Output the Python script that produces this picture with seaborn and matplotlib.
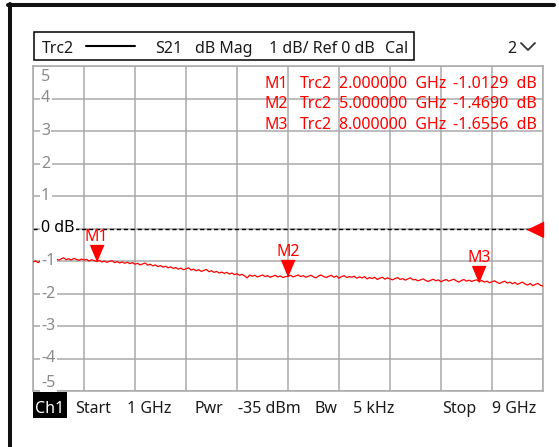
import numpy as np
import matplotlib.pyplot as plt
import seaborn as sns
from matplotlib.lines import Line2D
from matplotlib.patches import Rectangle

# S21 trace (dB), sweep 1 GHz -> 9 GHz
start_ghz = 1
stop_ghz = 9
s21_db = [
    -1.03, -1.00, -1.05, -0.99, -1.01, -0.97, -1.00, -0.95, -0.98, -0.93, -0.97, -0.94, -0.90,
    -0.96, -0.93, -0.97, -0.92, -0.95, -0.98, -0.94, -0.97, -0.95, -1.00, -0.96, -0.99,
    -1.01, -0.98, -1.03, -1.00, -1.04, -1.01, -0.99, -1.05, -1.02, -1.06, -1.03, -1.07, -1.04,
    -1.08, -1.05, -1.10, -1.07, -1.12, -1.09, -1.06, -1.13, -1.10, -1.15, -1.12, -1.17,
    -1.14, -1.19, -1.16, -1.21, -1.18, -1.23, -1.20, -1.25, -1.22, -1.27, -1.24, -1.21, -1.28,
    -1.25, -1.30, -1.27, -1.32, -1.29, -1.26, -1.33, -1.30, -1.35, -1.32, -1.37, -1.34,
    -1.38, -1.35, -1.40, -1.37, -1.42, -1.39, -1.44, -1.41, -1.46, -1.52, -1.43, -1.47, -1.44,
    -1.49, -1.46, -1.43, -1.48, -1.45, -1.50, -1.47, -1.44, -1.49, -1.46, -1.51, -1.48,
    -1.47, -1.44, -1.49, -1.46, -1.43, -1.48, -1.45, -1.50, -1.47, -1.44, -1.49, -1.52, -1.46,
    -1.43, -1.48, -1.51, -1.47, -1.44, -1.50, -1.46, -1.53, -1.48, -1.45, -1.51, -1.48,
    -1.50, -1.47, -1.53, -1.49, -1.52, -1.48, -1.55, -1.51, -1.54, -1.50, -1.57, -1.53, -1.50,
    -1.56, -1.52, -1.55, -1.58, -1.54, -1.51, -1.57, -1.54, -1.59, -1.55, -1.52, -1.58,
    -1.57, -1.61, -1.58, -1.55, -1.60, -1.63, -1.59, -1.56, -1.61, -1.58, -1.64, -1.60, -1.57,
    -1.62, -1.59, -1.56, -1.61, -1.65, -1.60, -1.57, -1.62, -1.59, -1.63, -1.60, -1.58,
    -1.63, -1.60, -1.65, -1.62, -1.67, -1.64, -1.61, -1.66, -1.69, -1.65, -1.62, -1.68, -1.65,
    -1.70, -1.66, -1.72, -1.68, -1.65, -1.71, -1.74, -1.69, -1.76, -1.72, -1.69, -1.75,
    -1.77,
]
freq_ghz = np.linspace(start_ghz, stop_ghz, len(s21_db))

marker_names = ['M1', 'M2', 'M3']
marker_ghz = [2.0, 5.0, 8.0]
marker_db = [-1.0129, -1.4690, -1.6556]

y_ticks = [5, 4, 3, 2, 1, 0, -1, -2, -3, -4, -5]

W, H = 559, 447
sns.set_style('white')
plt.rcParams['font.family'] = ['Noto Sans', 'DejaVu Sans']
FS = 11.5
GRID = '#a9a9a9'
TXT = '#1a1a1a'

fig = plt.figure(figsize=(W / 100, H / 100), dpi=100)


def fx(x):
    return x / W


def fy(y):
    return 1 - y / H


ax = fig.add_axes([fx(33), fy(391), 510 / W, 325 / H])

# trace
sns.lineplot(x=freq_ghz, y=s21_db, ax=ax, color='#ff0000', lw=0.9, estimator=None, zorder=3)

ax.set_xlim(start_ghz, stop_ghz)
ax.set_ylim(-5, 5)
ax.set_xticks(np.linspace(start_ghz, stop_ghz, 11))
ax.set_yticks(y_ticks)
ax.grid(True, color=GRID, lw=1.1)
ax.tick_params(labelleft=False, labelbottom=False, length=0)
for sp in ax.spines.values():
    sp.set_color(GRID)
    sp.set_linewidth(1.1)

# reference line 0 dB
ax.axhline(0, color='black', lw=1, ls=(0, (3, 2)), zorder=2)
ax.plot([stop_ghz], [0], ls='none', marker=[(-1, 0), (0, -0.48), (0, 0.48)], ms=23,
        color='#ff0000', clip_on=False, zorder=4)

# scale labels inside the grid
lab_tf = ax.get_yaxis_transform()
for v in y_ticks:
    yy = v
    if v == 5:
        yy = 4.66
    if v == -5:
        yy = -4.74
    if v == 0:
        ax.text(8 / 510, yy, '0 dB', transform=lab_tf, ha='left', va='center', fontsize=FS,
                color='black', bbox=dict(fc='white', ec='none', pad=1), zorder=5)
    else:
        ax.text(8 / 510, yy, str(v), transform=lab_tf, ha='left', va='center', fontsize=FS,
                color='#8a8a8a', bbox=dict(fc='white', ec='none', pad=1), zorder=5)

# markers on the trace
tri_down = [(0, 0), (-0.42, 1), (0.42, 1)]
ax.plot(marker_ghz, marker_db, ls='none', marker=tri_down, ms=23, color='#ff0000',
        clip_on=False, zorder=4)
for name, f, v in zip(marker_names, marker_ghz, marker_db):
    ax.annotate(name, (f, v), xytext=(0, 24), textcoords='offset pixels', ha='center',
                va='center', color='#ff0000', fontsize=FS, zorder=5)

# marker table
for i, (name, f, v) in enumerate(zip(marker_names, marker_ghz, marker_db)):
    base = 88 + i * 20.5
    fig.text(fx(288), fy(base), name, ha='right', va='baseline', color='#ff0000', fontsize=FS)
    fig.text(fx(300), fy(base), 'Trc2', ha='left', va='baseline', color='#ff0000', fontsize=FS)
    fig.text(fx(339), fy(base), f'{f:.6f}  GHz', ha='left', va='baseline', color='#ff0000',
             fontsize=FS)
    fig.text(fx(537), fy(base), f'{v:.4f}  dB', ha='right', va='baseline', color='#ff0000',
             fontsize=FS)

# header box
fig.add_artist(Rectangle((fx(34), fy(60)), (414 - 34) / W, 28 / H, fill=False, ec='black',
                         lw=1.1, transform=fig.transFigure))
fig.text(fx(42), fy(53), 'Trc2', ha='left', va='baseline', color=TXT, fontsize=FS)
fig.add_artist(Line2D([fx(86), fx(135)], [fy(46), fy(46)], color='black', lw=1.5))
fig.text(fx(155), fy(53), 'S21', ha='left', va='baseline', color=TXT, fontsize=FS)
fig.text(fx(195), fy(53), 'dB Mag', ha='left', va='baseline', color=TXT, fontsize=FS)
fig.text(fx(269), fy(53), '1 dB/ Ref 0 dB', ha='left', va='baseline', color=TXT, fontsize=FS)
fig.text(fx(385), fy(53), 'Cal', ha='left', va='baseline', color=TXT, fontsize=FS)
fig.text(fx(507), fy(53), '2', ha='left', va='baseline', color=TXT, fontsize=FS)
fig.add_artist(Line2D([fx(521), fx(528), fx(535)], [fy(43), fy(50), fy(43)], color='#333333',
                      lw=1.3))

# outer frame
fig.add_artist(Line2D([fx(8), fx(554)], [fy(5), fy(5)], color='#111111', lw=2.9))
fig.add_artist(Line2D([fx(10), fx(10)], [fy(3.5), fy(447)], color='#111111', lw=2.9))

# status bar
fig.add_artist(Rectangle((fx(33), fy(418)), 34 / W, 26 / H, fc='black', ec='none',
                         transform=fig.transFigure))
fig.text(fx(35), fy(413), 'Ch1', ha='left', va='baseline', color='white', fontsize=FS)
status = [(75, 'Start'), (127, '1 GHz'), (195, 'Pwr'), (238, '-35 dBm'), (315, 'Bw'),
          (353, '5 kHz'), (442, 'Stop'), (492, '9 GHz')]
for x, s in status:
    fig.text(fx(x), fy(413), s, ha='left', va='baseline', color=TXT, fontsize=FS)

plt.savefig('out.png', dpi=100)
